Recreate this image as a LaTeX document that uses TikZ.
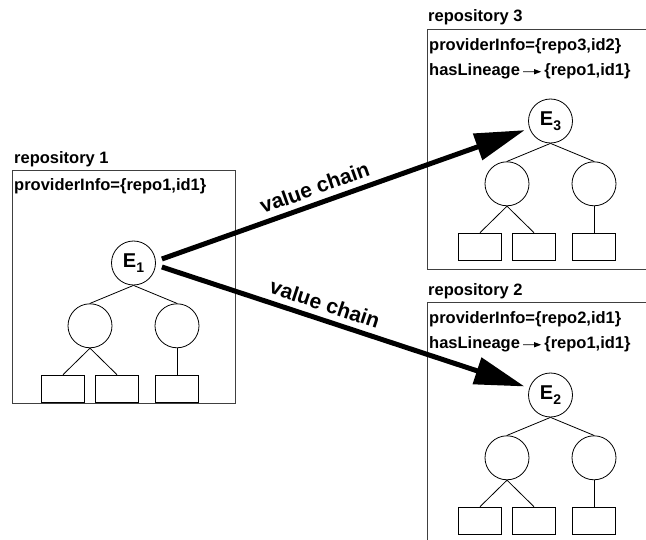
\documentclass[tikz,border=0pt]{standalone}
\usepackage{fontspec}
\setmainfont{Liberation Sans}
\usepackage{tikz}
\usetikzlibrary{positioning,arrows.meta}
\tikzstyle{repobox}=[rectangle, draw=black!75, line width=1pt, inner sep=0pt, anchor=north west]
\tikzstyle{entity}=[circle, draw=black, line width=0.8pt, minimum size=44pt, inner sep=0pt,
        font=\fontsize{20}{20}\selectfont\bfseries]
\tikzstyle{part}=[circle, draw=black, line width=0.8pt, minimum size=44pt, inner sep=0pt]
\tikzstyle{leaf}=[rectangle, draw=black, line width=0.8pt, minimum width=43pt, minimum height=27pt, inner sep=0pt]
\tikzstyle{info}=[anchor=base west, inner sep=0pt, font=\fontsize{16.5}{16.5}\selectfont\bfseries]
\tikzstyle{branch}=[line width=0.8pt]
\tikzstyle{flow}=[line width=5pt, -{Triangle[length=50pt,width=27pt]}, shorten >=5pt]
\tikzstyle{chainlabel}=[sloped, above=6pt, inner sep=0pt, font=\fontsize{21}{21}\selectfont\bfseries]
\tikzstyle{lineage}=[line width=0.9pt, -{Triangle[length=7pt,width=5pt]}]
\newcommand{\esub}[1]{E\raisebox{-5pt}{\fontsize{14}{14}\selectfont #1}}

\begin{document}
\begin{tikzpicture}[x=1pt, y=-1pt]
        \useasboundingbox (0,0) rectangle (646,540);
        \clip (0,0) rectangle (646,540);
        % repositories
        \node (repo1) [repobox, minimum width=223pt, minimum height=233pt] at (12,170) {};
        \node (repo3) [repobox, minimum width=240pt, minimum height=240pt] at (427,29) {};
        \node (repo2) [repobox, minimum width=240pt, minimum height=250pt] at (427,302) {};
        \node (name1) [info] at (14,164) {repository 1};
        \node (name3) [info] at (428,22) {repository 3};
        \node (name2) [info] at (428,296) {repository 2};
        \node (prov1) [info] at (14,191) {providerInfo=\{repo1,id1\}};
        \node (prov3) [info] at (429,51) {providerInfo=\{repo3,id2\}};
        \node (lin3) [info] at (429,76) {hasLineage};
        \node (src3) [info, right=24pt of lin3.base east, anchor=base west] {\{repo1,id1\}};
        \node (prov2) [info] at (429,324) {providerInfo=\{repo2,id1\}};
        \node (lin2) [info] at (429,349) {hasLineage};
        \node (src2) [info, right=24pt of lin2.base east, anchor=base west] {\{repo1,id1\}};
        \draw[lineage] ([xshift=3pt]lin3.east) -- ([xshift=-3pt]src3.west);
        \draw[lineage] ([xshift=3pt]lin2.east) -- ([xshift=-3pt]src2.west);
        % entities and their trees
        \node (E1) [entity] at (133.5,263) {\esub{1}};
        \node (E3) [entity] at (550.5,121) {\esub{3}};
        \node (E2) [entity] at (550.5,395) {\esub{2}};
        \foreach \e in {E1,E2,E3} {
          \node (\e-l) [part, below=18pt of \e, xshift=-43.5pt] {};
          \node (\e-r) [part, below=18pt of \e, xshift=43.5pt] {};
          \node (\e-a) [leaf, below=26.5pt of \e-l, xshift=-27pt] {};
          \node (\e-b) [leaf, below=26.5pt of \e-l, xshift=27pt] {};
          \node (\e-c) [leaf, below=26.5pt of \e-r] {};
          \draw[branch] (\e.south) -- (\e-l.north);
          \draw[branch] (\e.south) -- (\e-r.north);
          \draw[branch] (\e-l.south) -- (\e-a.north);
          \draw[branch] (\e-l.south) -- (\e-b.north);
          \draw[branch] (\e-r.south) -- (\e-c.north);
        }
        % value chains
        \draw[flow] ([xshift=6pt,yshift=4pt]E1.east) -- (E3) node[chainlabel, pos=0.43] {value chain};
        \draw[flow] ([xshift=6pt,yshift=-4pt]E1.east) -- (E2) node[chainlabel, pos=0.43] {value chain};
\end{tikzpicture}
\end{document}
